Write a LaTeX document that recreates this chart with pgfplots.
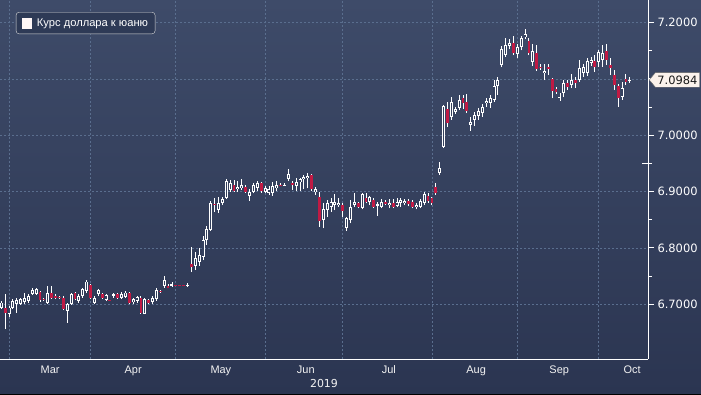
\documentclass[border=0pt]{standalone}
\usepackage{fontspec}
\setmainfont{Liberation Sans}
\newfontfamily\numfont{DejaVu Sans}
\usepackage{pgfplots}
\pgfplotsset{compat=1.18}
\usepackage{pgfplotstable}
\usetikzlibrary{shapes.symbols}
\definecolor{bgtop}{HTML}{3E4B69}
\definecolor{bgbot}{HTML}{2B3551}
\colorlet{hollow}{bgtop!55!bgbot}
\definecolor{candlered}{HTML}{C01A44}
\definecolor{gridc}{HTML}{5A6E8E}
\definecolor{legbg}{HTML}{2E3A56}
\definecolor{tagbg}{HTML}{FBF2EC}
\definecolor{yellowtick}{HTML}{C8C832}

\pgfplotstableread{
k O H L C
-2 6.6941 6.7059 6.6923 6.7030
-1 6.6941 6.7178 6.6556 6.6852
0 6.6822 6.6970 6.6775 6.6941
1 6.6941 6.7089 6.6911 6.7059
2 6.7012 6.7107 6.6852 6.7071
3 6.7012 6.7118 6.6988 6.7089
4 6.7047 6.7207 6.7012 6.7107
5 6.7059 6.7178 6.7030 6.7148
6 6.7189 6.7296 6.7166 6.7249
7 6.7189 6.7296 6.7166 6.7266
8 6.7219 6.7237 6.7047 6.7071
9 6.7095 6.7118 6.7059 6.7077
10 6.7030 6.7326 6.7012 6.7207
11 6.7207 6.7326 6.7089 6.7118
12 6.7142 6.7178 6.7089 6.7124
13 6.7130 6.7148 6.7089 6.7112
14 6.7118 6.7148 6.6893 6.6911
15 6.6882 6.7030 6.6674 6.7000
16 6.7000 6.7207 6.6988 6.7178
17 6.7207 6.7225 6.7071 6.7089
18 6.7059 6.7178 6.7030 6.7148
19 6.7148 6.7296 6.7118 6.7266
20 6.7237 6.7426 6.7207 6.7403
21 6.7343 6.7367 6.7089 6.7107
22 6.7030 6.7148 6.7000 6.7118
23 6.7178 6.7266 6.7148 6.7249
24 6.7178 6.7207 6.7089 6.7107
25 6.7071 6.7189 6.7059 6.7166
26 6.7077 6.7083 6.7059 6.7065
27 6.7148 6.7207 6.7118 6.7178
28 6.7178 6.7207 6.7089 6.7118
29 6.7118 6.7225 6.7089 6.7189
30 6.7130 6.7237 6.7107 6.7207
31 6.7207 6.7225 6.7000 6.7030
32 6.7030 6.7118 6.7012 6.7089
33 6.7059 6.7148 6.7030 6.7130
34 6.7118 6.7142 6.6834 6.6852
35 6.6834 6.7107 6.6822 6.7089
36 6.7071 6.7089 6.7012 6.7030
37 6.7047 6.7148 6.7012 6.7118
38 6.7089 6.7284 6.7059 6.7249
39 6.7243 6.7260 6.7207 6.7225
40 6.7326 6.7503 6.7296 6.7426
41 6.7326 6.7355 6.7284 6.7296
42 6.7326 6.7403 6.7308 6.7355
43 6.7345 6.7345 6.7335 6.7337
44 6.7345 6.7345 6.7335 6.7337
45 6.7345 6.7345 6.7335 6.7337
46 6.7337 6.7379 6.7308 6.7343
47 6.7714 6.8016 6.7572 6.7661
48 6.7679 6.7927 6.7608 6.7821
49 6.7750 6.7998 6.7679 6.7874
50 6.7839 6.8212 6.7785 6.8141
51 6.8141 6.8389 6.8052 6.8336
52 6.8318 6.8833 6.8300 6.8798
53 6.8789 6.8895 6.8643 6.8762
54 6.8673 6.8910 6.8625 6.8798
55 6.8803 6.8899 6.8762 6.8864
56 6.8882 6.9219 6.8864 6.9194
57 6.9029 6.9206 6.8998 6.9148
58 6.9117 6.9206 6.8998 6.9016
59 6.9041 6.9194 6.8998 6.9087
60 6.9059 6.9219 6.9029 6.9117
61 6.9087 6.9117 6.8980 6.8998
62 6.8922 6.9041 6.8839 6.8998
63 6.8998 6.9158 6.8970 6.9117
64 6.9070 6.9194 6.9016 6.9148
65 6.9158 6.9176 6.8980 6.9016
66 6.9000 6.9100 6.8970 6.9059
67 6.8970 6.9100 6.8940 6.9041
68 6.8970 6.9176 6.8922 6.9100
69 6.9059 6.9194 6.9016 6.9117
70 6.9122 6.9148 6.9100 6.9112
71 6.9112 6.9148 6.9100 6.9122
72 6.9219 6.9396 6.9194 6.9313
73 6.9158 6.9194 6.9029 6.9117
74 6.9100 6.9236 6.9016 6.9176
75 6.9176 6.9236 6.9016 6.9219
76 6.9219 6.9295 6.9041 6.9254
77 6.9236 6.9325 6.9059 6.9277
78 6.9295 6.9313 6.9016 6.9041
79 6.8998 6.9087 6.8940 6.9041
80 6.8910 6.8993 6.8372 6.8478
81 6.8496 6.8793 6.8349 6.8686
82 6.8673 6.8851 6.8554 6.8793
83 6.8732 6.8882 6.8643 6.8821
84 6.8762 6.8958 6.8673 6.8821
85 6.8762 6.8882 6.8732 6.8803
86 6.8762 6.8793 6.8554 6.8661
87 6.8349 6.8554 6.8306 6.8527
88 6.8496 6.8851 6.8437 6.8732
89 6.8762 6.8980 6.8732 6.8821
90 6.8793 6.8821 6.8704 6.8722
91 6.8704 6.8970 6.8686 6.8958
92 6.8882 6.8980 6.8793 6.8821
93 6.8821 6.8922 6.8762 6.8899
94 6.8851 6.8882 6.8704 6.8732
95 6.8762 6.8821 6.8567 6.8780
96 6.8732 6.8860 6.8704 6.8821
97 6.8821 6.8851 6.8762 6.8793
98 6.8762 6.8860 6.8704 6.8803
99 6.8793 6.8860 6.8704 6.8732
100 6.8744 6.8882 6.8721 6.8821
101 6.8803 6.8882 6.8732 6.8851
102 6.8793 6.8860 6.8762 6.8839
103 6.8839 6.8860 6.8738 6.8780
104 6.8821 6.8851 6.8704 6.8722
105 6.8722 6.8803 6.8686 6.8762
106 6.8732 6.8860 6.8704 6.8839
107 6.8793 6.8998 6.8762 6.8958
108 6.8922 6.8970 6.8803 6.8839
109 6.8882 6.8910 6.8762 6.8793
110 6.9087 6.9153 6.8940 6.8980
111 6.9331 6.9531 6.9295 6.9419
112 6.9787 7.0538 6.9775 7.0520
113 7.0462 7.0597 7.0153 7.0213
114 7.0331 7.0675 7.0272 7.0597
115 7.0419 7.0509 7.0385 7.0473
116 7.0480 7.0716 7.0450 7.0627
117 7.0657 7.0716 7.0468 7.0579
118 7.0597 7.0734 7.0402 7.0437
119 7.0183 7.0331 7.0082 7.0242
120 7.0272 7.0419 7.0165 7.0361
121 7.0343 7.0480 7.0272 7.0437
122 7.0402 7.0550 7.0331 7.0497
123 7.0568 7.0657 7.0509 7.0615
124 7.0568 7.0716 7.0491 7.0657
125 7.0627 7.0982 7.0597 7.0876
126 7.0876 7.1041 7.0716 7.0982
127 7.1249 7.1580 7.1207 7.1527
128 7.1426 7.1723 7.1396 7.1604
129 7.1586 7.1705 7.1527 7.1645
130 7.1645 7.1764 7.1426 7.1456
131 7.1444 7.1616 7.1367 7.1574
132 7.1574 7.1764 7.1509 7.1723
133 7.1741 7.1883 7.1705 7.1799
134 7.1680 7.1723 7.1426 7.1456
135 7.1307 7.1622 7.1231 7.1503
136 7.1456 7.1604 7.1147 7.1172
137 7.1219 7.1272 7.1160 7.1208
138 7.1101 7.1266 7.0982 7.1147
139 7.1208 7.1266 7.1071 7.1172
140 7.0995 7.1012 7.0657 7.0792
141 7.0817 7.0853 7.0739 7.0775
142 7.0662 7.0746 7.0615 7.0686
143 7.0746 7.0982 7.0680 7.0934
144 7.0924 7.0982 7.0805 7.0863
145 7.0893 7.1089 7.0834 7.0982
146 7.0982 7.1041 7.0841 7.0924
147 7.0982 7.1337 7.0952 7.1190
148 7.1112 7.1266 7.1041 7.1208
149 7.1112 7.1367 7.1053 7.1325
150 7.1290 7.1396 7.1231 7.1337
151 7.1325 7.1426 7.1130 7.1219
152 7.1307 7.1515 7.1219 7.1485
153 7.1337 7.1604 7.1219 7.1467
154 7.1503 7.1622 7.1249 7.1337
155 7.1249 7.1373 7.1071 7.1190
156 7.1071 7.1160 7.0805 7.0893
157 7.0876 7.0911 7.0503 7.0657
158 7.0686 7.0947 7.0627 7.0835
159 7.0995 7.1089 7.0893 7.0952
160 7.0980 7.1041 7.0935 7.0984
}\candles

\begin{document}
\begin{tikzpicture}
\useasboundingbox (0,0) rectangle (701bp,395bp);
\fill[top color=bgtop, bottom color=bgbot] (0,0) rectangle (701bp,395bp);
\fill[black] (0,0) rectangle (701bp,1.5bp);
\begin{axis}[
  at={(0bp,36bp)}, anchor=south west,
  scale only axis, width=648bp, height=359bp,
  xmin=-2.32, xmax=164.69, ymin=6.6027, ymax=7.2403,
  axis x line*=bottom, axis y line*=right,
  axis line style={white, line width=1bp, -},
  xtick={10.6,32,54.6,76.5,97.9,120.4,141.8,160.6},
  xticklabels={Mar,Apr,May,Jun,Jul,Aug,Sep,Oct},
  minor xtick={0,21,43,66,86,109,131,152},
  xtick style={draw=none},
  minor x tick style={white, line width=1bp},
  ytick={6.7,6.8,6.9,7.0,7.1,7.2},
  minor y tick num=1,
  y tick style={white, line width=1.1bp},
  tick align=outside,
  major tick length=6bp, minor tick length=4bp,
  xminorgrids=true, ymajorgrids=true,
  minor grid style={gridc, dash pattern=on 2bp off 2bp, line width=0.7bp},
  major grid style={gridc, dash pattern=on 2bp off 2bp, line width=0.7bp},
  /pgf/number format/assume math mode=true,
  xticklabel style={text=white!90!gray, font=\fontsize{11}{12}\selectfont, yshift=3bp},
  yticklabel style={text=white, font=\numfont\fontsize{11.5}{12}\selectfont,
     /pgf/number format/.cd, fixed, fixed zerofill, precision=4},
  xlabel={2019},
  xlabel style={text=white!90!gray, font=\numfont\fontsize{11}{12}\selectfont, yshift=3bp},
  extra y ticks={6.95}, extra y tick labels={},
  extra y tick style={tick align=inside, major tick length=6bp, grid=none,
     tick style={draw=yellowtick, line width=1bp}},
  legend style={at={(0.0245,0.9664)}, anchor=north west, fill=legbg,
     draw=white!70!gray, rounded corners=3bp, text=white,
     font=\fontsize{11.2}{12}\selectfont, inner xsep=5bp, inner ysep=4.2bp},
  legend cell align=left,
  clip=false,
]
% wicks
\addplot[draw=none, forget plot, error bars/.cd, y dir=plus, y explicit, error mark=none,
  error bar style={draw=white, line width=0.9bp}]
  table[x=k, y=L, y error plus expr={\thisrow{H}-\thisrow{L}}] {\candles};
% down bodies
\addplot[draw=none, forget plot, restrict expr to domain={\thisrow{O}-\thisrow{C}}{0.000001:1},
  error bars/.cd, y dir=both, y explicit, error mark=none,
  error bar style={draw=candlered, line width=2.8bp}]
  table[x=k, y expr={(\thisrow{O}+\thisrow{C})/2}, y error expr={max((\thisrow{O}-\thisrow{C})/2,0.0006)}] {\candles};
% up bodies (outline)
\addplot[draw=none, forget plot, restrict expr to domain={\thisrow{C}-\thisrow{O}}{0:1},
  error bars/.cd, y dir=both, y explicit, error mark=none,
  error bar style={draw=white, line width=3bp}]
  table[x=k, y expr={(\thisrow{O}+\thisrow{C})/2}, y error expr={max((\thisrow{C}-\thisrow{O})/2,0.0006)}] {\candles};
% up bodies (hollow inside)
\addplot[draw=none, forget plot, restrict expr to domain={\thisrow{C}-\thisrow{O}}{0:1},
  error bars/.cd, y dir=both, y explicit, error mark=none,
  error bar style={draw=hollow, line width=1.1bp}]
  table[x=k, y expr={(\thisrow{O}+\thisrow{C})/2}, y error expr={max((\thisrow{C}-\thisrow{O})/2-0.0016,0)}] {\candles};
\addlegendimage{legend image code/.code={\path (-1bp,0bp) (12.5bp,0bp);
   \fill[white!97!red, sharp corners] (0bp,-4.7bp) rectangle (9.4bp,4.7bp);}}
\addlegendentry{Курс доллара к юаню}
\coordinate (tag) at (axis cs:164.69,7.0984);
\end{axis}
\node[signal, signal to=west, signal pointer angle=100, fill=tagbg, draw=black!60,
  text=black!90, font=\numfont\fontsize{11.5}{12}\selectfont, inner xsep=2bp, inner ysep=3bp,
  anchor=west] at ([xshift=1bp]tag) {7.0984};
\end{tikzpicture}
\end{document}
